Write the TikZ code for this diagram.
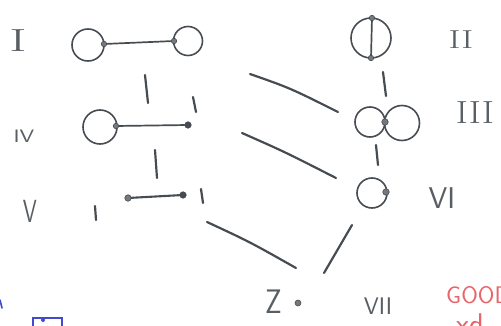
\documentclass[tikz,border=0pt]{standalone}
\usepackage{fontspec}
\usepackage{graphicx}
\usepackage{tikz}
\usetikzlibrary{calc}
\definecolor{pencil}{RGB}{70,76,82}
\definecolor{penred}{RGB}{232,100,104}
\definecolor{penblue}{RGB}{66,74,205}

\begin{document}
\begin{tikzpicture}[x=1pt, y=-1pt,
  vtx/.style={circle, fill=pencil!75, draw=pencil, line width=0.6pt,
              inner sep=0pt, minimum size=5.5pt},
  loopc/.style={circle, draw=pencil, line width=1.6pt, inner sep=0pt},
  prop/.style={draw=pencil, line width=1.7pt, line cap=round},
  hasse/.style={draw=pencil, line width=2.2pt, line cap=round},
  tick/.style={draw=pencil, line width=2.2pt, line cap=round},
  numrm/.style={text=pencil!90, inner sep=0pt, font=\fontsize{#1}{#1}\selectfont},
  numsf/.style={text=pencil!90, inner sep=0pt, font=\fontsize{#1}{#1}\selectfont\sffamily}
]
\useasboundingbox (0,0) rectangle (501,326);
\clip (0,0) rectangle (501,326);

%% --- graph I -------------------------------------------------------------
\node[loopc, minimum size=32pt] (lIa) at (88,45) {};
\node[loopc, minimum size=29pt] (lIb) at (188,41) {};
\node[vtx] (vIa) at (104,44) {};
\node[vtx] (vIb) at (174,41) {};
\draw[prop] (vIa) -- (vIb);
\node[numrm=32] (tI) at (18,41) {\scalebox{1.65}[1]{I}};

%% --- graph IV ------------------------------------------------------------
\node[loopc, minimum size=34pt] (lIV) at (100,127) {};
\node[vtx] (vIVa) at (116,126) {};
\node[vtx, fill=pencil, minimum size=6.5pt] (vIVb) at (188,125) {};
\draw[prop] (vIVa) -- (vIVb);
\node[numsf=18] (tIV) at (24,136) {\scalebox{1.3}[1]{IV}};
\coordinate (kIVa) at (193,97);
\coordinate (kIVb) at (196,112);
\draw[tick] (kIVa) -- (kIVb);

%% --- graph V -------------------------------------------------------------
\node[vtx, minimum size=6.5pt] (vVa) at (128,198) {};
\node[vtx, fill=pencil, minimum size=6.5pt] (vVb) at (183,195) {};
\draw[prop, line width=2.1pt] (vVa) -- (vVb);
\node[numsf=32] (tV) at (30,211) {\scalebox{0.7}[1]{V}};
\coordinate (kVa) at (95,206);
\coordinate (kVb) at (96,220);
\coordinate (kVc) at (201,189);
\coordinate (kVd) at (203,203);
\draw[tick] (kVa) -- (kVb);
\draw[tick] (kVc) -- (kVd);

%% --- graph II ------------------------------------------------------------
\node[loopc, minimum size=40pt] (lII) at (371,38) {};
\node[vtx] (vIIa) at (372,18) {};
\node[vtx] (vIIb) at (371,58) {};
\draw[prop] (vIIa) -- (vIIb);
\node[numrm=26] (tII) at (461,40) {\scalebox{1.4}[1]{II}};

%% --- graph III -----------------------------------------------------------
\node[loopc, minimum size=30pt] (lIIIa) at (370,122) {};
\node[loopc, minimum size=35pt] (lIIIb) at (402,123) {};
\node[vtx, minimum size=6.5pt] (vIII) at (385,122) {};
\node[numrm=32] (tIII) at (475,113) {\scalebox{1.15}[1]{III}};

%% --- graph VI ------------------------------------------------------------
\node[loopc, minimum size=30pt] (lVI) at (372,193) {};
\node[vtx, minimum size=6.5pt] (vVI) at (386,192) {};
\node[numsf=30] (tVI) at (442,198) {VI};

%% --- graph VII -----------------------------------------------------------
\node[vtx, minimum size=6pt] (vVII) at (298,303) {};
\node[numsf=34] (tZ) at (274,302) {\scalebox{0.85}[1]{Z}};
\node[numsf=24] (tVII) at (378,306) {VII};

%% --- lines between graphs ------------------------------------------------
\coordinate (hIa)   at (145,75);   \coordinate (hIb)   at (148,103);
\coordinate (hIVa)  at (155,150);  \coordinate (hIVb)  at (157,178);
\coordinate (hIIa)  at (383,72);   \coordinate (hIIb)  at (386,96);
\coordinate (hIIIa) at (376,145);  \coordinate (hIIIb) at (378,165);
\coordinate (dIa)   at (250,74);   \coordinate (dIb)   at (338,112);
\coordinate (dIVa)  at (242,133);  \coordinate (dIVb)  at (336,178);
\coordinate (dVa)   at (207,222);  \coordinate (dVb)   at (296,268);
\coordinate (dVIa)  at (352,225);  \coordinate (dVIb)  at (324,273);

\draw[hasse] (hIa) -- (hIb);
\draw[hasse] (hIVa) -- (hIVb);
\draw[hasse] (hIIa) -- (hIIb);
\draw[hasse] (hIIIa) -- (hIIIb);
\draw[hasse] (dIa) .. controls (290,88) .. (dIb);
\draw[hasse] (dIVa) .. controls (285,152) .. (dIVb);
\draw[hasse] (dVa) .. controls (250,242) .. (dVb);
\draw[hasse] (dVIa) -- (dVIb);

%% --- margin scribbles ----------------------------------------------------
\node[text=penred, inner sep=0pt, anchor=west,
      font=\fontsize{24}{24}\selectfont\sffamily] (good) at (446,295) {GOOD};
\node[text=penred, inner sep=0pt, anchor=base west,
      font=\fontsize{30}{30}\selectfont\sffamily] (xd) at (456,334) {xd};
\coordinate (bq) at (33,318);
\draw[penblue, line width=1.6pt] (bq) rectangle ++(29,14);
\fill[penblue] ($(bq)+(10,2)$) circle (2pt);
\coordinate (bm) at (0,300);
\draw[penblue, line width=1.6pt, line cap=round] (bm) -- ++(2,8);

\end{tikzpicture}
\end{document}
